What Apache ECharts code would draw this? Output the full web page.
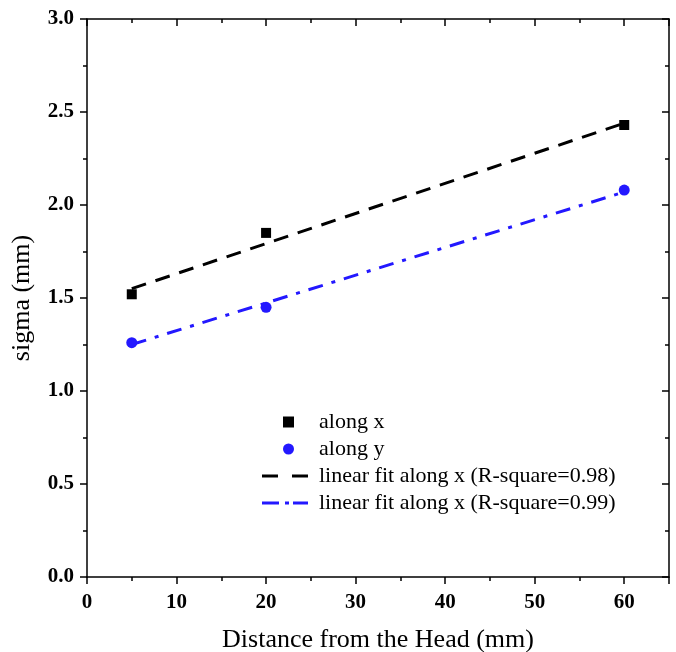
<!DOCTYPE html>
<html>
<head>
<meta charset="utf-8">
<script src="https://cdn.jsdelivr.net/npm/echarts@6/dist/echarts.min.js"></script>
<style>
  html, body { margin: 0; padding: 0; background: #fff; }
  #chart { width: 676px; height: 652px; }
</style>
</head>
<body>
<div id="chart"></div>
<script>
// données
const distances = [5, 20, 60];
const sigmaX = [1.52, 1.85, 2.43];
const sigmaY = [1.26, 1.45, 2.08];
const fitX = [[5, 1.55], [60, 2.44]];
const fitY = [[5, 1.25], [60, 2.07]];
const seriesNames = [
  "along x",
  "along y",
  "linear fit along x (R-square=0.98)",
  "linear fit along x (R-square=0.99)"
];

const serif = "'Liberation Serif', 'DejaVu Serif', serif";
const blue = "#2318ff";

// icônes de légende : tirets dessinés en chemin (la légende ne reprend pas le pointillé)
const dashIcon = "path://M0,0h16v3h-16z M30,0h16v3h-16z";
const dashDotIcon = "path://M0,0h17v3h-17z M23,0h4v3h-4z M31,0h15v3h-15z";

const chart = echarts.init(document.getElementById("chart"));

function pairs(xs, ys) {
  return xs.map((x, i) => [x, ys[i]]);
}

const axisLine = { show: true, onZero: false, lineStyle: { color: "#000", width: 1.5 } };
const legendText = { fontFamily: serif, fontSize: 22, color: "#000", lineHeight: 22 };

const option = {
  animation: false,
  backgroundColor: "#fff",
  grid: { left: 87, right: 7, top: 19, bottom: 75, outerBoundsMode: "none", containLabel: false },
  legend: [
    {
      data: [seriesNames[0], seriesNames[1]],
      orient: "vertical",
      left: 278,
      top: 406,
      itemWidth: 11,
      itemHeight: 11,
      itemGap: 5,
      textStyle: Object.assign({ padding: [0, 0, 0, 20] }, legendText)
    },
    {
      data: [
        { name: seriesNames[2], icon: dashIcon },
        { name: seriesNames[3], icon: dashDotIcon }
      ],
      orient: "vertical",
      left: 257,
      top: 460,
      itemWidth: 46,
      itemHeight: 3,
      itemGap: 5,
      textStyle: Object.assign({ padding: [0, 0, 0, 6] }, legendText)
    }
  ],
  xAxis: [
    {
      type: "value",
      min: 0,
      max: 65,
      interval: 10,
      name: "Distance from the Head (mm)",
      nameLocation: "middle",
      nameGap: 50,
      nameTextStyle: { fontFamily: serif, fontSize: 26, color: "#000" },
      axisLine: axisLine,
      axisTick: { show: true, length: 7, inside: false, lineStyle: { color: "#000", width: 1.5 } },
      minorTick: { show: true, splitNumber: 2, length: 4, lineStyle: { color: "#000", width: 1.5 } },
      axisLabel: {
        fontFamily: serif, fontSize: 21, fontWeight: "bold", color: "#000", margin: 15,
        showMaxLabel: false
      },
      splitLine: { show: false }
    },
    {
      type: "value",
      position: "top",
      min: 0,
      max: 65,
      interval: 10,
      axisLine: axisLine,
      axisTick: { show: true, length: 7, inside: true, lineStyle: { color: "#000", width: 1.5 } },
      minorTick: { show: true, splitNumber: 2, length: 4, lineStyle: { color: "#000", width: 1.5 } },
      axisLabel: { show: false },
      splitLine: { show: false }
    }
  ],
  yAxis: [
    {
      type: "value",
      min: 0,
      max: 3,
      interval: 0.5,
      name: "sigma (mm)",
      nameLocation: "middle",
      nameGap: 52,
      nameTextStyle: { fontFamily: serif, fontSize: 26, color: "#000" },
      axisLine: axisLine,
      axisTick: { show: true, length: 7, inside: false, lineStyle: { color: "#000", width: 1.5 } },
      minorTick: { show: true, splitNumber: 2, length: 4, lineStyle: { color: "#000", width: 1.5 } },
      axisLabel: {
        fontFamily: serif, fontSize: 21, fontWeight: "bold", color: "#000", margin: 13,
        formatter: (v) => v.toFixed(1)
      },
      splitLine: { show: false }
    },
    {
      type: "value",
      position: "right",
      min: 0,
      max: 3,
      interval: 0.5,
      axisLine: axisLine,
      axisTick: { show: true, length: 7, inside: true, lineStyle: { color: "#000", width: 1.5 } },
      minorTick: { show: true, splitNumber: 2, length: 4, lineStyle: { color: "#000", width: 1.5 } },
      axisLabel: { show: false },
      splitLine: { show: false }
    }
  ],
  series: [
    {
      name: seriesNames[2],
      type: "line",
      data: fitX,
      symbol: "none",
      lineStyle: { color: "#000", width: 3, type: [15, 10] },
      itemStyle: { color: "#000" },
      z: 2
    },
    {
      name: seriesNames[3],
      type: "line",
      data: fitY,
      symbol: "none",
      lineStyle: { color: blue, width: 3, type: [15, 9, 4, 9] },
      itemStyle: { color: blue },
      z: 2
    },
    {
      name: seriesNames[0],
      type: "scatter",
      data: pairs(distances, sigmaX),
      symbol: "rect",
      symbolSize: 10,
      itemStyle: { color: "#000", opacity: 1 },
      z: 3
    },
    {
      name: seriesNames[1],
      type: "scatter",
      data: pairs(distances, sigmaY),
      symbol: "circle",
      symbolSize: 11,
      itemStyle: { color: blue, opacity: 1 },
      z: 3
    }
  ]
};

chart.setOption(option);
</script>
</body>
</html>
